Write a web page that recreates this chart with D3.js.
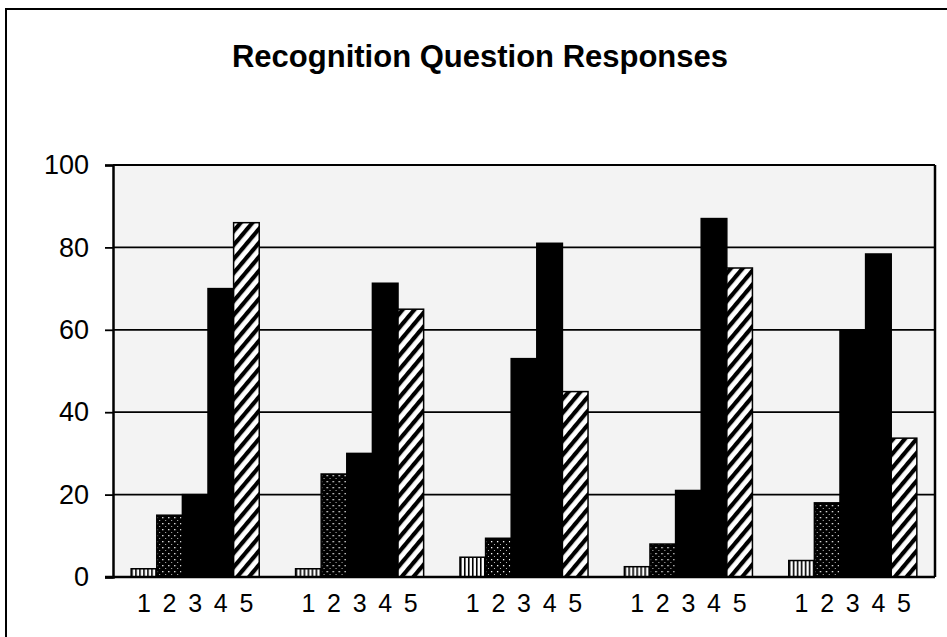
<!DOCTYPE html>
<html><head><meta charset="utf-8">
<script src="https://cdn.jsdelivr.net/npm/d3@7"></script>
<style>html,body{margin:0;padding:0;background:#fff;}svg{display:block;}</style>
</head><body>
<svg id="chart" width="947" height="637"></svg>
<script>
const title = "Recognition Question Responses";
const groups = ["G1", "G2", "G3", "G4", "G5"];
const responses = ["1", "2", "3", "4", "5"];
const yTicks = [0, 20, 40, 60, 80, 100];
// values per group, for responses 1..5
const resp1 = [2, 2, 4.8, 2.5, 4];
const resp2 = [15, 25, 9.4, 8, 18];
const resp3 = [20, 30, 53, 21, 60];
const resp4 = [70, 71.3, 81, 87, 78.4];
const resp5 = [86, 65, 45, 75, 33.7];
const series = [resp1, resp2, resp3, resp4, resp5];

const svg = d3.select("#chart");
const W = 947, H = 637;
const m = {left: 113, right: 935, top: 165, bottom: 577};

// patterns
const defs = svg.append("defs");
const p1 = defs.append("pattern").attr("id","pv").attr("patternUnits","userSpaceOnUse").attr("width",4).attr("height",4);
p1.append("rect").attr("width",4).attr("height",4).attr("fill","#fff");
p1.append("rect").attr("x",0).attr("width",1.6).attr("height",4).attr("fill","#000");
const p2 = defs.append("pattern").attr("id","pd").attr("patternUnits","userSpaceOnUse").attr("width",6).attr("height",6);
p2.append("rect").attr("width",6).attr("height",6).attr("fill","#000");
p2.append("rect").attr("x",1).attr("y",1).attr("width",1.3).attr("height",1.3).attr("fill","#fff");
p2.append("rect").attr("x",4).attr("y",4).attr("width",1).attr("height",1).attr("fill","#bbb");
const p5 = defs.append("pattern").attr("id","ph").attr("patternUnits","userSpaceOnUse").attr("width",9).attr("height",9).attr("patternTransform","rotate(40)");
p5.append("rect").attr("width",9).attr("height",9).attr("fill","#fff");
p5.append("rect").attr("x",0).attr("width",4.2).attr("height",9).attr("fill","#000");
const fills = ["url(#pv)", "url(#pd)", "#000", "#000", "url(#ph)"];

// outer frame
svg.append("rect").attr("x",6).attr("y",9).attr("width",W+20).attr("height",H+20)
  .attr("fill","#fff").attr("stroke","#000").attr("stroke-width",2);

// title
svg.append("text").attr("x",480).attr("y",67).attr("text-anchor","middle")
  .attr("font-family","Liberation Sans, Arial, sans-serif").attr("font-weight","bold")
  .attr("font-size",31).attr("fill","#000").text(title);

const x0 = d3.scaleBand().domain(groups).range([m.left, m.right]).paddingInner(0.221).paddingOuter(0.1105);
const x1 = d3.scaleBand().domain(responses).range([0, x0.bandwidth()]);
const y = d3.scaleLinear().domain([0,100]).range([m.bottom, m.top]);

// plot background
svg.append("rect").attr("x",m.left).attr("y",m.top).attr("width",m.right-m.left).attr("height",m.bottom-m.top)
  .attr("fill","#f3f3f3");

// gridlines
svg.append("g").selectAll("line").data(yTicks.filter(d=>d>0)).join("line")
  .attr("x1",m.left).attr("x2",m.right).attr("y1",d=>y(d)).attr("y2",d=>y(d))
  .attr("stroke","#000").attr("stroke-width",1.8);

// bars
const gG = svg.append("g").selectAll("g").data(groups).join("g")
  .attr("transform",d=>`translate(${x0(d)},0)`);
gG.selectAll("rect").data((g,gi)=>responses.map((r,ri)=>({r, ri, v: series[ri][gi]}))).join("rect")
  .attr("x",d=>x1(d.r)).attr("y",d=>y(d.v)).attr("width",x1.bandwidth()).attr("height",d=>y(0)-y(d.v))
  .attr("fill",d=>fills[d.ri]).attr("stroke","#000").attr("stroke-width",1.5);

// right border
svg.append("line").attr("x1",m.right).attr("x2",m.right).attr("y1",m.top).attr("y2",m.bottom)
  .attr("stroke","#000").attr("stroke-width",2.5);

// y axis
const yAxis = d3.axisLeft(y).tickValues(yTicks).tickSize(8).tickPadding(16);
const ya = svg.append("g").attr("transform",`translate(${m.left},0)`).call(yAxis);
ya.select(".domain").attr("stroke","#000").attr("stroke-width",2.5);
ya.selectAll(".tick line").attr("stroke","#000").attr("stroke-width",1.8);
ya.selectAll("text").attr("font-family","Liberation Sans, Arial, sans-serif").attr("font-size",27).attr("fill","#000");

// x axis line
svg.append("line").attr("x1",m.left-8).attr("x2",m.right).attr("y1",y(0)).attr("y2",y(0))
  .attr("stroke","#000").attr("stroke-width",2.5);

// x labels
gG.selectAll("text.xl").data(responses).join("text").attr("class","xl")
  .attr("x",d=>x1(d)+x1.bandwidth()/2).attr("y",612).attr("text-anchor","middle")
  .attr("font-family","Liberation Sans, Arial, sans-serif").attr("font-size",25).attr("fill","#000").text(d=>d);
</script>
</body></html>
